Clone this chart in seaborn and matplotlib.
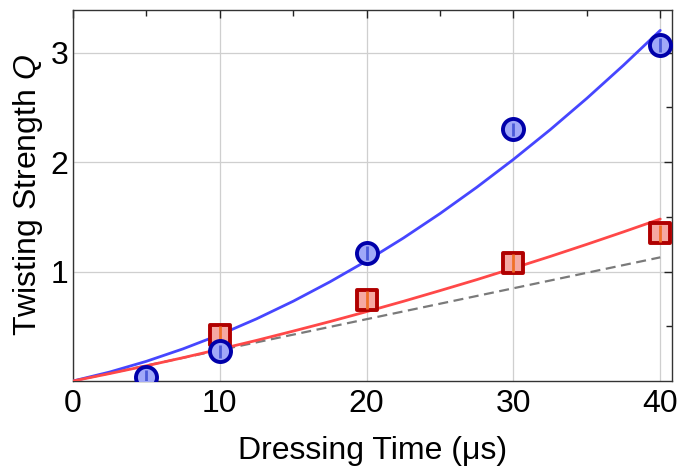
import matplotlib
matplotlib.use("Agg")
import matplotlib.pyplot as plt
import seaborn as sns
import pandas as pd

# ---- data ----
t_blue = [5, 10, 20, 30, 40]
q_blue = [0.04, 0.27, 1.17, 2.30, 3.07]
e_blue = [0.06, 0.06, 0.06, 0.06, 0.06]

t_red = [10, 20, 30, 40]
q_red = [0.42, 0.74, 1.08, 1.35]
e_red = [0.08, 0.08, 0.08, 0.08]

t_fit = [0, 2.5, 5, 7.5, 10, 12.5, 15, 17.5, 20, 22.5, 25, 27.5, 30, 32.5, 35, 37.5, 40]
q_fit_blue = [0, 0.082, 0.180, 0.294, 0.423, 0.568, 0.729, 0.906, 1.098, 1.306,
              1.530, 1.770, 2.025, 2.296, 2.583, 2.886, 3.204]
q_fit_red = [0, 0.068, 0.139, 0.213, 0.291, 0.371, 0.456, 0.543, 0.634, 0.728,
             0.826, 0.926, 1.031, 1.138, 1.249, 1.363, 1.480]

t_lin = [0, 40]
q_lin = [0, 1.13]

xticks = [0, 10, 20, 30, 40]
yticks = [1, 2, 3]

sns.set_theme(style="white")
fam = "Liberation Sans"
plt.rcParams['font.family'] = [fam, 'DejaVu Sans']
plt.rcParams['mathtext.fontset'] = 'custom'
plt.rcParams['mathtext.it'] = fam + ':italic'
plt.rcParams['mathtext.rm'] = fam
plt.rcParams['text.color'] = 'black'
plt.rcParams['axes.labelcolor'] = 'black'

fig = plt.figure(figsize=(6.79, 4.66), dpi=100)
ax = fig.add_axes([0.1075, 0.1824, 0.8822, 0.7961])

df_fit = pd.DataFrame({"t": t_fit, "b": q_fit_blue, "r": q_fit_red})
sns.lineplot(data=df_fit, x="t", y="b", ax=ax, color="#4646ff", lw=2.0, zorder=3)
sns.lineplot(data=df_fit, x="t", y="r", ax=ax, color="#ff4848", lw=2.0, zorder=3)
df_lin = pd.DataFrame({"t": t_lin, "q": q_lin})
sns.lineplot(data=df_lin, x="t", y="q", ax=ax, color="#7a7a7a", lw=1.6,
             linestyle=(0, (4.5, 2.5)), zorder=2)

df_r = pd.DataFrame({"t": t_red, "q": q_red})
sns.scatterplot(data=df_r, x="t", y="q", ax=ax, marker="s", s=220,
                color="#f5a8a2", edgecolor="#b00000", linewidth=2.8, zorder=4)
ax.errorbar(t_red, q_red, yerr=e_red, fmt="none", ecolor="#f07028", elinewidth=2, zorder=5)

df_b = pd.DataFrame({"t": t_blue, "q": q_blue})
sns.scatterplot(data=df_b, x="t", y="q", ax=ax, marker="o", s=230,
                color="#a0a8f8", edgecolor="#0000aa", linewidth=2.8, zorder=6)
ax.errorbar(t_blue, q_blue, yerr=e_blue, fmt="none", ecolor="#4a5ad8", elinewidth=2, zorder=7)

ax.set_xlim(0, 40.8)
ax.set_ylim(0, 3.39)
ax.set_xticks(xticks)
ax.set_xticks([5, 15, 25, 35], minor=True)
ax.set_yticks(yticks)
ax.set_yticks([0.5, 1.5, 2.5], minor=True)
ax.grid(True, which="major", color="#cfcfcf", lw=0.9)
ax.set_axisbelow(True)
ax.tick_params(which="both", direction="in", top=True, right=True, colors="#222222",
               labelcolor="black", labelsize=23)
ax.tick_params(which="major", length=6, width=1)
ax.tick_params(which="minor", length=4, width=1)
ax.tick_params(axis="x", which="major", pad=6)
for s in ax.spines.values():
    s.set_color("#333333")
    s.set_linewidth(1.0)

ax.set_xlabel("Dressing Time (μs)", fontsize=23, labelpad=12)
ax.set_ylabel("Twisting Strength $Q$", fontsize=23, labelpad=4)

fig.savefig("out.png", dpi=100)
